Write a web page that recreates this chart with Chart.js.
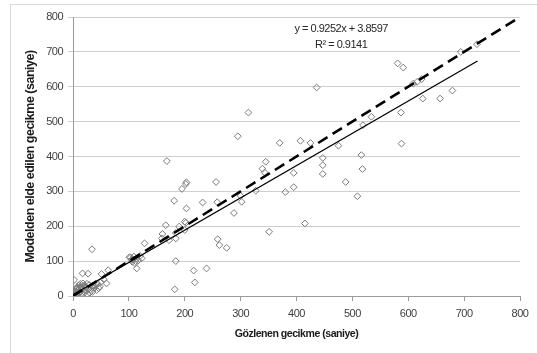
<!DOCTYPE html>
<html>
<head>
<meta charset="utf-8">
<script src="https://cdn.jsdelivr.net/npm/chart.js@4.4.0/dist/chart.umd.min.js"></script>
<style>
  html, body { margin: 0; padding: 0; background: #ffffff; }
  #wrap { position: relative; width: 537px; height: 353px; overflow: hidden; }
  #frame { position: absolute; left: 10px; top: 4px; width: 600px; height: 420px; border: 1px solid #d9d9d9; box-sizing: border-box; }
  canvas { position: absolute; left: 0; top: 0; }
</style>
</head>
<body>
<div id="wrap">
  <div id="frame"></div>
  <canvas id="c" width="537" height="353"></canvas>
</div>
<script>
// ---- data ----
const observedX = [
  581, 591, 694, 723, 609, 616, 624, 626, 657, 679, 587, 588,
  436, 534, 519, 370, 407, 425, 475, 447, 447, 447, 516, 518, 395, 345, 339, 343, 488, 380, 395, 509, 415, 351,
  168, 295, 314,
  327, 203, 202, 195, 256, 181, 232, 258, 300, 302, 288, 203, 200, 202, 166, 190, 200, 160, 159, 184, 184, 172, 128, 259, 262, 275, 184, 216, 239, 218, 182,
  101, 103, 109, 114, 120, 106, 111, 114, 123, 108, 117, 112, 105,
  34, 2, 17, 27, 51, 63, 7, 8, 14, 30, 42, 48, 33, 60,
  1, 2, 3, 4, 5, 6, 7, 8, 9, 10, 11, 12, 13, 15, 16, 18, 19, 20, 21, 23, 24, 25, 26, 28, 29, 31, 35, 36, 38, 40, 44, 46, 50, 55, 10, 13, 18, 22, 5, 4
];
const modelY = [
  667, 655, 700, 722, 609, 614, 622, 566, 566, 589, 526, 437,
  598, 514, 490, 439, 445, 439, 431, 396, 375, 350, 404, 364, 353, 385, 365, 354, 327, 298, 312, 286, 208, 184,
  387, 458, 526,
  302, 326, 321, 307, 327, 273, 268, 269, 287, 270, 238, 251, 213, 210, 203, 199, 189, 178, 165, 181, 165, 160, 151, 163, 146, 138, 100, 73, 79, 39, 19,
  111, 111, 113, 108, 115, 98, 94, 79, 108, 105, 102, 100, 104,
  134, 46, 65, 64, 63, 74, 22, 25, 27, 9, 17, 27, 28, 36,
  2, 5, 1, 8, 3, 12, 4, 15, 6, 18, 9, 22, 12, 25, 8, 20, 14, 30, 10, 24, 16, 35, 5, 20, 32, 18, 12, 30, 22, 28, 35, 22, 40, 48, 30, 35, 36, 28, 20, 14
];
const identityLine = [[0, 0], [800, 800]];
const trendLine = [[0, 3.86], [724, 673.7]];
const axisTicks = [0, 100, 200, 300, 400, 500, 600, 700, 800];
const equationText = 'y = 0.9252x + 3.8597';
const r2Text = 'R² = 0.9141';
const xTitle = 'Gözlenen gecikme (saniye)';
const yTitle = 'Modelden elde edilen gecikme (saniye)';

const points = observedX.map((x, i) => ({ x: x, y: modelY[i] }));
const toXY = arr => arr.map(p => ({ x: p[0], y: p[1] }));

const FAM = "'Liberation Sans', Arial, sans-serif";
const tickFont = { family: FAM, size: 11 };
const xTitleFont = { family: FAM, size: 10.6, weight: 'bold' };
const yTitleFont = { family: FAM, size: 12.5, weight: 'bold' };

const condensePlugin = {
  id: 'condense',
  beforeDraw(chart) { chart.ctx.letterSpacing = '-0.5px'; },
  afterDraw(chart) { chart.ctx.letterSpacing = '0px'; }
};

const equationPlugin = {
  id: 'equation',
  afterDatasetsDraw(chart) {
    const { ctx, scales } = chart;
    ctx.save();
    ctx.letterSpacing = '-0.5px';
    ctx.fillStyle = '#262626';
    ctx.font = "11px " + FAM;
    ctx.textAlign = 'center';
    ctx.textBaseline = 'middle';
    const cx = scales.x.getPixelForValue(480);
    ctx.fillText(equationText, cx, scales.y.getPixelForValue(767));
    ctx.fillText(r2Text, cx, scales.y.getPixelForValue(721));
    ctx.restore();
  }
};

new Chart(document.getElementById('c'), {
  type: 'scatter',
  data: {
    datasets: [
      {
        type: 'line', data: toXY(identityLine), borderColor: '#000000', borderWidth: 2.6,
        borderDash: [11, 6], pointRadius: 0, fill: false, order: 1
      },
      {
        type: 'line', data: toXY(trendLine), borderColor: '#000000', borderWidth: 1.3,
        pointRadius: 0, fill: false, order: 1
      },
      {
        data: points, pointStyle: 'rectRot', pointRadius: 3.4, borderWidth: 1,
        borderColor: '#7a7a7a', backgroundColor: 'rgba(255,255,255,0)', order: 2
      }
    ]
  },
  options: {
    responsive: false,
    animation: false,
    events: [],
    layout: { padding: { left: 0, top: 17, right: 17, bottom: 0 } },
    plugins: { legend: { display: false }, tooltip: { enabled: false } },
    scales: {
      x: {
        type: 'linear', min: 0, max: 800,
        afterBuildTicks: s => { s.ticks = axisTicks.map(v => ({ value: v })); },
        afterFit: s => { s.height = 57; },
        grid: { drawOnChartArea: false, drawTicks: true, tickLength: 5, color: '#9a9a9a' },
        border: { display: true, color: '#9a9a9a' },
        ticks: { font: tickFont, color: '#404040', padding: 6, maxRotation: 0 },
        title: { display: true, text: xTitle, font: xTitleFont, color: '#1a1a1a', padding: { top: 0, bottom: 13 } }
      },
      y: {
        type: 'linear', min: 0, max: 800,
        afterBuildTicks: s => { s.ticks = axisTicks.map(v => ({ value: v })); },
        afterFit: s => { s.width = 73; },
        grid: { drawTicks: true, tickLength: 5, color: '#cfcfcf' },
        border: { display: true, color: '#9a9a9a' },
        ticks: { font: tickFont, color: '#404040', padding: 5 },
        title: { display: true, text: yTitle, font: yTitleFont, color: '#1a1a1a', padding: { top: 23, bottom: 0 } }
      }
    }
  },
  plugins: [condensePlugin, equationPlugin]
});
</script>
</body>
</html>
